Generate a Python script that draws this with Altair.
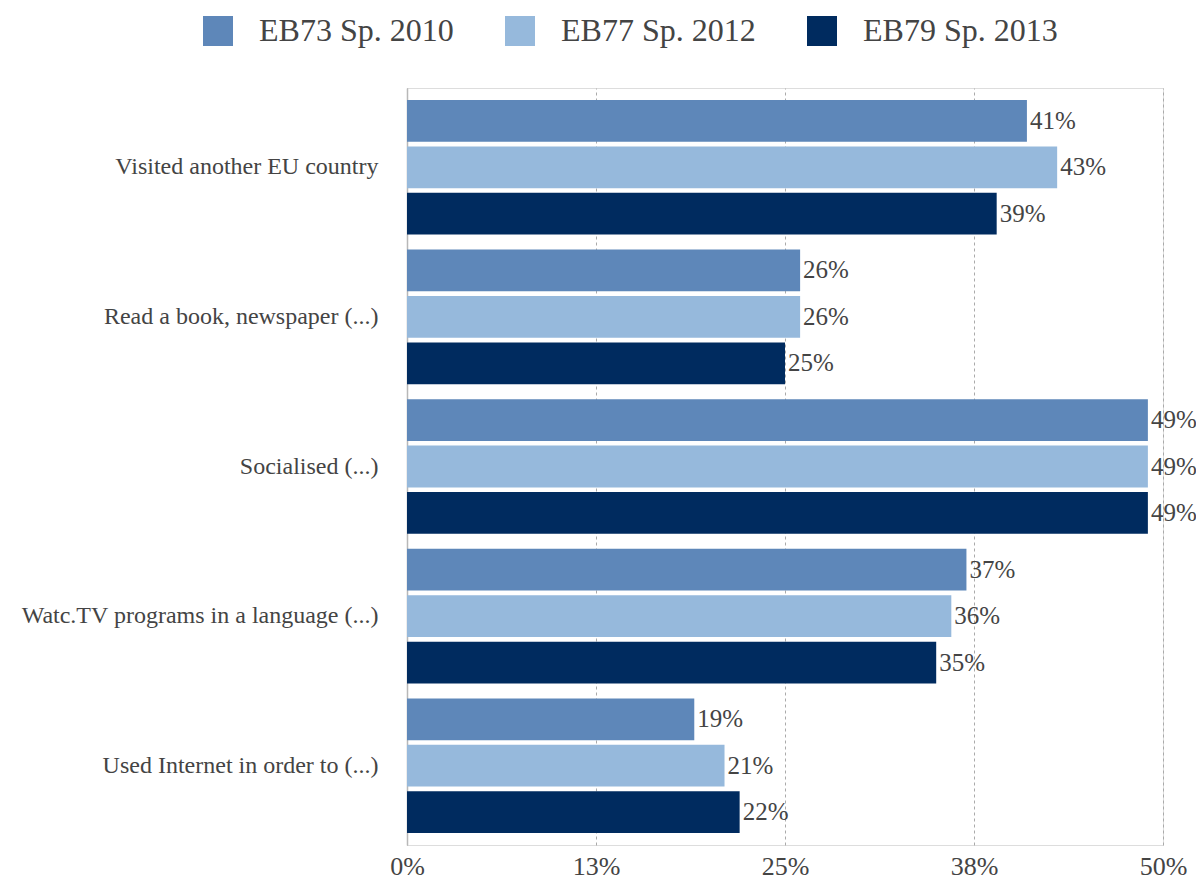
import altair as alt
import pandas as pd

categories = [
    "Visited another EU country",
    "Read a book, newspaper (...)",
    "Socialised (...)",
    "Watc.TV programs in a language (...)",
    "Used Internet in order to (...)",
]
series = ["EB73 Sp. 2010", "EB77 Sp. 2012", "EB79 Sp. 2013"]
eb73 = [41, 26, 49, 37, 19]
eb77 = [43, 26, 49, 36, 21]
eb79 = [39, 25, 49, 35, 22]
colors = ["#5e87b9", "#96b9dc", "#002b5f"]
x_ticks = [0, 12.5, 25, 37.5, 50]

rows = []
for s, vals in zip(series, [eb73, eb77, eb79]):
    for c, v in zip(categories, vals):
        rows.append({"category": c, "series": s, "value": v, "label": f"{v}%"})
df = pd.DataFrame(rows)

FONT = "Liberation Serif"

y = alt.Y(
    "category:N",
    sort=categories,
    scale=alt.Scale(paddingInner=0.1, paddingOuter=0.08),
    axis=alt.Axis(
        title=None, ticks=False, domain=True, domainColor="#b8b8b8", domainWidth=1.5,
        labelFont=FONT, labelFontSize=24, labelColor="#444", labelPadding=29, labelLimit=400,
    ),
)
yoff = alt.YOffset("series:N", sort=series, scale=alt.Scale(paddingInner=0.1, paddingOuter=0))
x = alt.X(
    "value:Q",
    scale=alt.Scale(domain=[0, 50], nice=False),
    axis=alt.Axis(
        title=None, values=x_ticks, labelExpr="round(datum.value) + '%'",
        grid=True, gridDash=[3, 3], gridColor="#aaaaaa", gridWidth=1,
        domain=False, ticks=False, labelFlush=False,
        labelFont=FONT, labelFontSize=26, labelColor="#444", labelPadding=8,
    ),
)
color = alt.Color(
    "series:N",
    sort=series,
    scale=alt.Scale(domain=series, range=colors),
    legend=alt.Legend(
        title=None, orient="none", direction="horizontal", legendX=-205, legendY=-73,
        symbolType="square", symbolSize=900, symbolStrokeWidth=0, symbolOpacity=1,
        labelFont=FONT, labelFontSize=32, labelColor="#444", labelOffset=25,
        labelLimit=400, columnPadding=50, padding=0,
    ),
)

bars = alt.Chart(df).mark_bar(strokeWidth=0).encode(y=y, yOffset=yoff, x=x, color=color)
labels = alt.Chart(df).mark_text(
    align="left", baseline="middle", dx=3, font=FONT, fontSize=25, color="#444"
).encode(y=alt.Y("category:N", sort=categories), yOffset=alt.YOffset("series:N", sort=series), x="value:Q", text="label:N")

chart = (
    alt.layer(bars, labels)
    .properties(
        width=756,
        height=757,
        autosize=alt.AutoSizeParams(type="none"),
        padding={"left": 399, "top": 80, "right": 33, "bottom": 34},
    )
    .configure_view(strokeWidth=0, stroke="transparent")
    .configure(background="white")
)

chart.save("out.html", embed_options={"renderer": "svg", "actions": False})
